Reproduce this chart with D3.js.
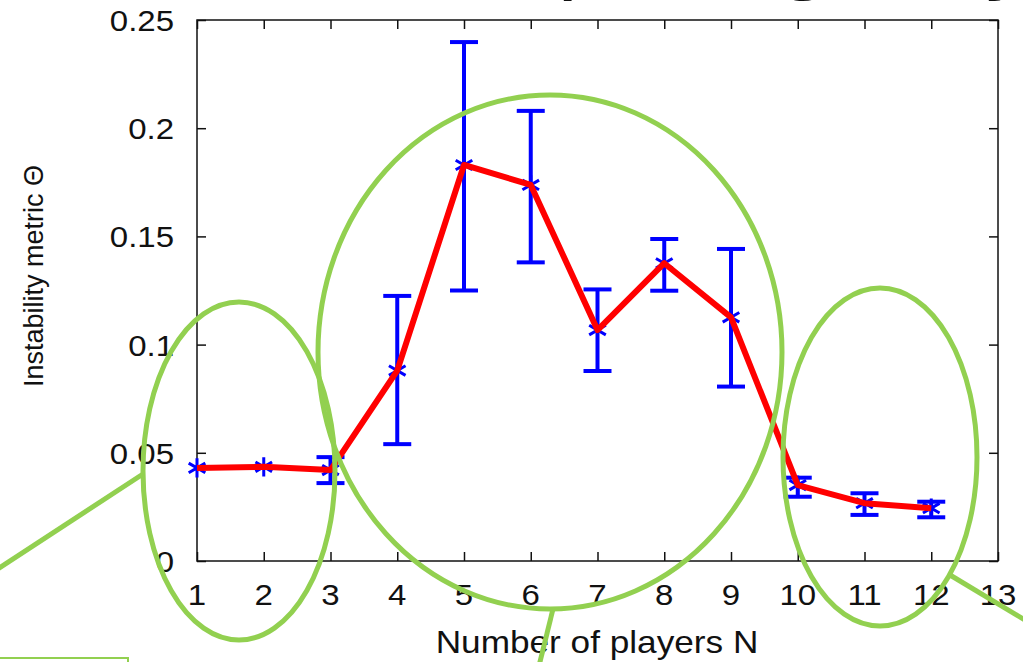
<!DOCTYPE html>
<html>
<head>
<meta charset="utf-8">
<script src="https://cdn.jsdelivr.net/npm/d3@7"></script>
<style>
body { margin: 0; background: #fff; }
text { font-family: "Liberation Sans", Arial, sans-serif; fill: #111; }
</style>
</head>
<body>
<svg id="chart" width="1023" height="662"></svg>
<script>
var players = [1, 2, 3, 4, 5, 6, 7, 8, 9, 10, 11, 12];
var theta = [0.043, 0.0435, 0.042, 0.088, 0.183, 0.1738, 0.1067, 0.1376, 0.1126, 0.0351, 0.0267, 0.0244];
var errLow = [0.043, 0.0435, 0.036, 0.054, 0.125, 0.138, 0.0878, 0.1249, 0.0806, 0.0297, 0.0213, 0.0202];
var errHigh = [0.043, 0.0435, 0.048, 0.1225, 0.2398, 0.208, 0.1255, 0.1488, 0.1442, 0.0385, 0.0313, 0.0274];
var xTicks = [1, 2, 3, 4, 5, 6, 7, 8, 9, 10, 11, 12, 13];
var yTicks = [0, 0.05, 0.1, 0.15, 0.2, 0.25];

// plot box in pixels (named so they don't clash with window.top)
var plotL = 197, plotR = 998, plotT = 20, plotB = 561;
var tickLen = 9;
var stretch = 1.1; // the screenshot is a bit wider than tall

var svg = d3.select("#chart");

var x = d3.scaleLinear().domain([1, 13]).range([plotL, plotR]);
var y = d3.scaleLinear().domain([0, 0.25]).range([plotB, plotT]);

// cut off slide title above the chart, only descenders show
var titleBits = [["p", 556], ["g", 778], ["y", 982]];
svg.selectAll(".title").data(titleBits).enter()
	.append("text")
	.attr("x", function(d) { return d[1]; })
	.attr("y", -17)
	.attr("font-size", 86)
	.style("font-family", "'DejaVu Sans', sans-serif")
	.text(function(d) { return d[0]; });

// axes, gnuplot style: ticks inside on all four sides
var g = svg.append("g");
g.append("g").attr("transform", "translate(0," + plotB + ")")
	.call(d3.axisTop(x).tickValues(xTicks).tickSize(tickLen).tickFormat(""));
g.append("g").attr("transform", "translate(0," + plotT + ")")
	.call(d3.axisBottom(x).tickValues(xTicks).tickSize(tickLen).tickFormat(""));
g.append("g").attr("transform", "translate(" + plotL + ",0)")
	.call(d3.axisRight(y).tickValues(yTicks).tickSize(tickLen).tickFormat(""));
g.append("g").attr("transform", "translate(" + plotR + ",0)")
	.call(d3.axisLeft(y).tickValues(yTicks).tickSize(tickLen).tickFormat(""));
g.selectAll(".domain").remove();
g.selectAll(".tick line").attr("stroke", "#111").attr("stroke-width", 1.5);
g.append("rect")
	.attr("x", plotL).attr("y", plotT)
	.attr("width", plotR - plotL).attr("height", plotB - plotT)
	.attr("fill", "none").attr("stroke", "#111").attr("stroke-width", 1.5);

// tick labels
svg.selectAll(".xlab").data(xTicks).enter()
	.append("text")
	.attr("transform", function(d) { return "translate(" + x(d) + ",605) scale(" + stretch + ",1)"; })
	.attr("text-anchor", "middle")
	.attr("font-size", 30)
	.text(function(d) { return d; });

svg.selectAll(".ylab").data(yTicks).enter()
	.append("text")
	.attr("transform", function(d) { return "translate(174," + (y(d) + 11) + ") scale(" + stretch + ",1)"; })
	.attr("text-anchor", "end")
	.attr("font-size", 30)
	.text(function(d) { return d === 0 ? "0" : String(d); });

svg.append("text")
	.attr("transform", "translate(597,653) scale(" + stretch + ",1)")
	.attr("text-anchor", "middle")
	.attr("font-size", 32)
	.text("Number of players N");

svg.append("text")
	.attr("transform", "translate(43,276) rotate(-90)")
	.attr("text-anchor", "middle")
	.attr("font-size", 27)
	.text("Instability metric Θ");

// error bars
var rows = d3.range(players.length).map(function(i) {
	return { n: players[i], v: theta[i], lo: errLow[i], hi: errHigh[i] };
});
var capW = 14;
var eb = svg.append("g").attr("stroke", "#0000ff").attr("stroke-width", 4);
rows.forEach(function(d) {
	if (d.hi - d.lo <= 0) return;
	eb.append("line").attr("x1", x(d.n)).attr("x2", x(d.n)).attr("y1", y(d.lo)).attr("y2", y(d.hi));
	eb.append("line").attr("x1", x(d.n) - capW).attr("x2", x(d.n) + capW).attr("y1", y(d.lo)).attr("y2", y(d.lo));
	eb.append("line").attr("x1", x(d.n) - capW).attr("x2", x(d.n) + capW).attr("y1", y(d.hi)).attr("y2", y(d.hi));
});

// asterisk markers
var star = d3.symbol().type(d3.symbolAsterisk).size(260);
svg.selectAll(".pt").data(rows).enter()
	.append("path")
	.attr("transform", function(d) { return "translate(" + x(d.n) + "," + y(d.v) + ")"; })
	.attr("d", star)
	.attr("fill", "none")
	.attr("stroke", "#0000ff")
	.attr("stroke-width", 3);

// red mean line
var line = d3.line().x(function(d) { return x(d.n); }).y(function(d) { return y(d.v); });
svg.append("path")
	.datum(rows)
	.attr("d", line)
	.attr("fill", "none")
	.attr("stroke", "#ff0000")
	.attr("stroke-width", 6)
	.attr("stroke-linejoin", "round");

// green annotation overlay
var green = "#92d050";
var ellipses = [[239, 471, 96, 169], [550, 352, 232, 257], [880, 457, 97, 169]];
svg.selectAll(".ell").data(ellipses).enter()
	.append("ellipse")
	.attr("cx", function(d) { return d[0]; })
	.attr("cy", function(d) { return d[1]; })
	.attr("rx", function(d) { return d[2]; })
	.attr("ry", function(d) { return d[3]; })
	.attr("fill", "none")
	.attr("stroke", green)
	.attr("stroke-width", 5);

var pointers = [[143, 474, -10, 574], [553, 609, 538, 670], [950, 575, 1030, 623]];
svg.selectAll(".ptr").data(pointers).enter()
	.append("line")
	.attr("x1", function(d) { return d[0]; })
	.attr("y1", function(d) { return d[1]; })
	.attr("x2", function(d) { return d[2]; })
	.attr("y2", function(d) { return d[3]; })
	.attr("stroke", green)
	.attr("stroke-width", 5);

svg.append("path")
	.attr("d", "M-2,658 H128 V670")
	.attr("fill", "none")
	.attr("stroke", green)
	.attr("stroke-width", 2);
</script>
</body>
</html>
